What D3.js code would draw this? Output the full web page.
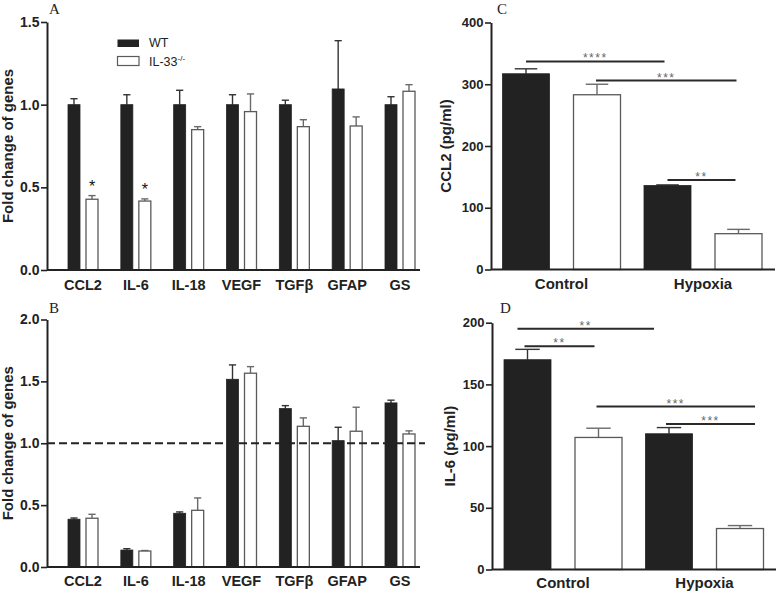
<!DOCTYPE html>
<html><head><meta charset="utf-8">
<script src="https://cdn.jsdelivr.net/npm/d3@7"></script>
<style>
body{margin:0;background:#fff}
svg{display:block}
text{font-family:"Liberation Sans",Arial,Helvetica,sans-serif;fill:#222}
</style>
</head><body>
<svg id="c" width="778" height="592"></svg>
<script>
// ---------- data ----------
const genes = ["CCL2","IL-6","IL-18","VEGF","TGFβ","GFAP","GS"];
const groupsAB = ["WT","IL-33"];
const aWT    = [1.0, 1.0, 1.0, 1.0, 1.0, 1.095, 1.0];
const aWTerr = [0.036, 0.06, 0.087, 0.06, 0.027, 0.292, 0.048];
const aKO    = [0.428, 0.417, 0.849, 0.958, 0.867, 0.871, 1.081];
const aKOerr = [0.022, 0.013, 0.018, 0.107, 0.042, 0.055, 0.04];
const aStars = ["*", "*", "", "", "", "", ""];
const aTicks = [0, 0.5, 1.0, 1.5];

const bWT    = [0.386, 0.137, 0.434, 1.517, 1.28, 1.021, 1.326];
const bWTerr = [0.01, 0.011, 0.011, 0.116, 0.024, 0.108, 0.022];
const bKO    = [0.394, 0.129, 0.458, 1.566, 1.137, 1.097, 1.075];
const bKOerr = [0.032, 0.004, 0.1, 0.053, 0.068, 0.194, 0.025];
const bTicks = [0, 0.5, 1.0, 1.5, 2.0];
const bRef = 1.0;

const conditions = ["Control","Hypoxia"];
const cWT    = [317, 136];
const cWTerr = [8, 1];
const cKO    = [283, 58];
const cKOerr = [17, 7];
const cTicks = [0, 100, 200, 300, 400];
const cSig = [
  {from:["Control","WT"], to:["Hypoxia","WT"], y:337, label:"****"},
  {from:["Control","IL-33"], to:["Hypoxia","IL-33"], y:306, label:"***"},
  {from:["Hypoxia","WT"], to:["Hypoxia","IL-33"], y:145, label:"**"}
];

const dWT    = [170, 110];
const dWTerr = [8.4, 5];
const dKO    = [107, 33.2];
const dKOerr = [7.5, 2.4];
const dTicks = [0, 50, 100, 150, 200];
const dSig = [
  {from:["Control","WT"], to:["Hypoxia","WT"], y:195, label:"**"},
  {from:["Control","WT"], to:["Control","IL-33"], y:181, label:"**"},
  {from:["Control","IL-33"], to:["Hypoxia","IL-33"], y:132, label:"***"},
  {from:["Hypoxia","WT"], to:["Hypoxia","IL-33"], y:118, label:"***"}
];

// ---------- drawing ----------
const svg = d3.select("#c");
const DARK = "#222";
const WTFILL = "#222";
const KOSTROKE = "#5a5a5a";
// pixel nudges of the significance-bar ends (styling only)
const cSigNudge = [[0,-3],[-1,-2],[0,-3]];
const dSigNudge = [[-10,-15],[-3,-4],[-2,15],[-3,15]];

function panel(cfg){
  const g = svg.append("g");
  const y = d3.scaleLinear().domain(cfg.yDomain).range([cfg.y0, cfg.y1]);
  const x = d3.scalePoint().domain(cfg.cats).range(cfg.xRange);
  const sub = d3.scaleBand().domain(groupsAB).range([-cfg.half, cfg.half]).paddingInner(cfg.pad);
  const bw = sub.bandwidth();
  const cap = bw * cfg.capFrac;

  const series = [
    {key:"WT", vals:cfg.wt, errs:cfg.wtErr},
    {key:"IL-33", vals:cfg.ko, errs:cfg.koErr}
  ];
  series.forEach(s => {
    const isWT = s.key === "WT";
    const ecol = isWT ? "#333" : "#6a6a6a";
    cfg.cats.forEach((c, i) => {
      const v = s.vals[i], e = s.errs[i];
      const bx = x(c) + sub(s.key);
      const cx = bx + bw/2;
      g.append("line").attr("x1", cx).attr("x2", cx)
        .attr("y1", y(v)).attr("y2", y(v+e))
        .attr("stroke", ecol).attr("stroke-width", 1.4);
      g.append("line").attr("x1", cx-cap/2).attr("x2", cx+cap/2)
        .attr("y1", y(v+e)).attr("y2", y(v+e))
        .attr("stroke", ecol).attr("stroke-width", 1.4);
      g.append("rect").attr("x", bx).attr("width", bw)
        .attr("y", y(v)).attr("height", y(0)-y(v))
        .attr("fill", isWT ? WTFILL : "#fff")
        .attr("stroke", isWT ? WTFILL : KOSTROKE)
        .attr("stroke-width", isWT ? 0.8 : 1.3);
      if (!isWT && cfg.stars && cfg.stars[i]) {
        g.append("text").attr("x", cx).attr("y", y(v+e) - 3.5)
          .attr("text-anchor","middle").attr("font-size", 16)
          .style("fill","#111").text(cfg.stars[i]);
      }
    });
  });

  if (cfg.ref !== undefined) {
    g.append("line").attr("x1", cfg.axisX).attr("x2", cfg.xEnd + 5)
      .attr("y1", y(cfg.ref)).attr("y2", y(cfg.ref))
      .attr("stroke", DARK).attr("stroke-width", 2).attr("stroke-dasharray","8,4");
  }

  (cfg.sig || []).forEach((s, k) => {
    const nd = (cfg.nudge && cfg.nudge[k]) || [0,0];
    const xa = x(s.from[0]) + sub(s.from[1]) + bw/2 + nd[0];
    const xb = x(s.to[0]) + sub(s.to[1]) + bw/2 + nd[1];
    g.append("line").attr("x1", xa).attr("x2", xb)
      .attr("y1", y(s.y)).attr("y2", y(s.y))
      .attr("stroke", "#2a2a2a").attr("stroke-width", 2);
    g.append("text").attr("x", (xa+xb)/2).attr("y", y(s.y) + 1)
      .attr("text-anchor","middle").attr("font-size", 12)
      .attr("letter-spacing", 1.5)
      .style("fill","#666").text(s.label);
  });

  const ax = g.append("g").attr("transform", `translate(${cfg.axisX},0)`)
    .call(d3.axisLeft(y).tickValues(cfg.ticks).tickFormat(cfg.fmt)
      .tickSize(6).tickSizeOuter(0).tickPadding(1.5));
  ax.select(".domain").attr("stroke", DARK).attr("stroke-width", 2);
  ax.selectAll(".tick line").attr("stroke", DARK).attr("stroke-width", 1.6);
  ax.selectAll(".tick text").attr("font-size", cfg.tickFs).attr("font-weight","bold")
    .attr("font-family", '"Liberation Sans",Arial,sans-serif').style("fill", DARK);

  g.append("line").attr("x1", cfg.axisX).attr("x2", cfg.xEnd)
    .attr("y1", y(0)).attr("y2", y(0)).attr("stroke", DARK).attr("stroke-width", 2);
  cfg.cats.forEach(c => {
    g.append("text").attr("x", x(c)).attr("y", y(0) + cfg.catDy)
      .attr("text-anchor","middle").attr("font-size", cfg.catFs).attr("font-weight","bold")
      .text(c);
  });

  const my = (cfg.y0 + cfg.y1)/2;
  g.append("text").attr("transform", `translate(${cfg.titleX},${my}) rotate(-90)`)
    .attr("text-anchor","middle").attr("font-size", 15).attr("font-weight","bold")
    .text(cfg.title);

  g.append("text").attr("x", cfg.letterX).attr("y", cfg.letterY)
    .style("font-family", '"Liberation Serif","Times New Roman",serif')
    .attr("font-size", 15).text(cfg.letter);
  return {g, x, y};
}

const fmt1 = d3.format(".1f");
const fmt0 = d3.format("d");

panel({cats:genes, wt:aWT, wtErr:aWTerr, ko:aKO, koErr:aKOerr, stars:aStars,
  yDomain:[0,1.5], y0:270, y1:22, xRange:[83,400], half:15, pad:1/3, capFrac:0.6,
  axisX:47, xEnd:420, ticks:aTicks, fmt:fmt1, tickFs:14, catFs:14.5, catDy:20,
  title:"Fold change of genes", titleX:13, letter:"A", letterX:49, letterY:14});

panel({cats:genes, wt:bWT, wtErr:bWTerr, ko:bKO, koErr:bKOerr, ref:bRef,
  yDomain:[0,2.0], y0:567, y1:319.5, xRange:[83,400], half:15, pad:1/3, capFrac:0.6,
  axisX:47, xEnd:420, ticks:bTicks, fmt:fmt1, tickFs:14, catFs:14.5, catDy:18.5,
  title:"Fold change of genes", titleX:13, letter:"B", letterX:49, letterY:313});

panel({cats:conditions, wt:cWT, wtErr:cWTerr, ko:cKO, koErr:cKOerr, sig:cSig, nudge:cSigNudge,
  yDomain:[0,400], y0:269.5, y1:22.5, xRange:[561.5,703], half:59, pad:0.338, capFrac:0.48,
  axisX:491, xEnd:775, ticks:cTicks, fmt:fmt0, tickFs:13, catFs:15, catDy:19,
  title:"CCL2 (pg/ml)", titleX:451, letter:"C", letterX:497, letterY:14});

panel({cats:conditions, wt:dWT, wtErr:dWTerr, ko:dKO, koErr:dKOerr, sig:dSig, nudge:dSigNudge,
  yDomain:[0,200], y0:569.5, y1:322.7, xRange:[563,704.5], half:59, pad:0.338, capFrac:0.52,
  axisX:492, xEnd:776, ticks:dTicks, fmt:fmt0, tickFs:13, catFs:15, catDy:18.5,
  title:"IL-6 (pg/ml)", titleX:455, letter:"D", letterX:500, letterY:312.5});

// legend (panel A)
const leg = svg.append("g");
leg.append("rect").attr("x",117.5).attr("y",39.5).attr("width",21.5).attr("height",7.5)
  .attr("fill", WTFILL);
leg.append("text").attr("x",149).attr("y",47).attr("font-size",12.5).text("WT");
leg.append("rect").attr("x",117.5).attr("y",56.5).attr("width",21.5).attr("height",9)
  .attr("fill","#fff").attr("stroke",KOSTROKE).attr("stroke-width",1.2);
const t2 = leg.append("text").attr("x",149).attr("y",65.5).attr("font-size",12.5);
t2.append("tspan").text("IL-33");
t2.append("tspan").attr("dy",-5).attr("font-size",8).text("-/-");
</script>
</body></html>
